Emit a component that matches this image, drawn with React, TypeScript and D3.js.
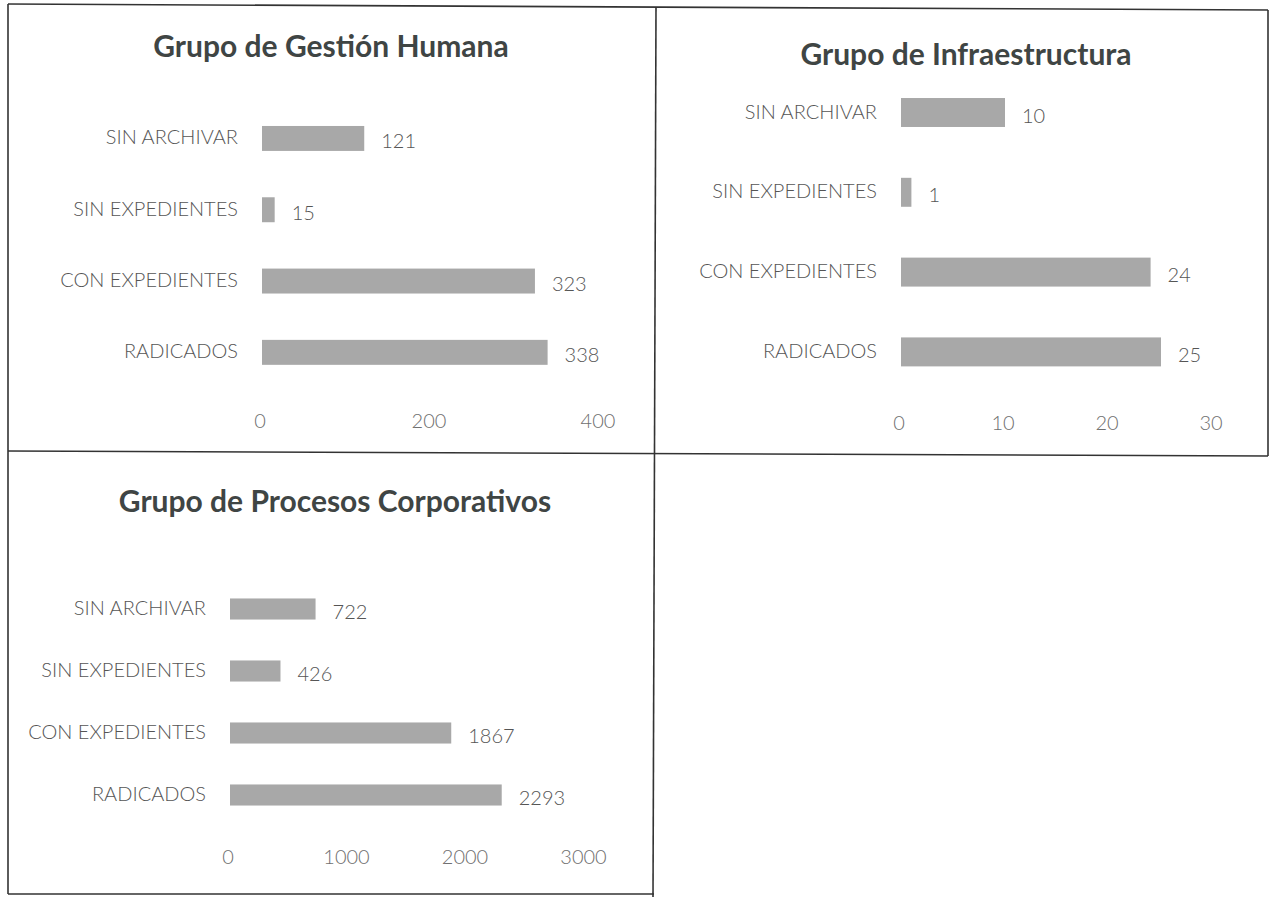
import React from 'react';
import * as d3 from 'd3';

// categories top to bottom, as in the scanned report
const categories = ['SIN ARCHIVAR', 'SIN EXPEDIENTES', 'CON EXPEDIENTES', 'RADICADOS'];

const gestionHumana = [121, 15, 323, 338];
const infraestructura = [10, 1, 24, 25];
const procesosCorporativos = [722, 426, 1867, 2293];

const ticksGestion = [0, 200, 400];
const ticksInfra = [0, 10, 20, 30];
const ticksProcesos = [0, 1000, 2000, 3000];

const titles = ['Grupo de Gestión Humana', 'Grupo de Infraestructura', 'Grupo de Procesos Corporativos'];

const FONT = 'Lato, "Open Sans", sans-serif';
const BAR = '#a8a8a8';

type PanelProps = {
    title: string;
    values: number[];
    ticks: number[];
    xRange: [number, number];
    yRange: [number, number];
    pad: number;
    titleX: number;
    titleY: number;
    tickY: number;
};

function Panel(props: PanelProps) {
    const {title, values, ticks, xRange, yRange, pad, titleX, titleY, tickY} = props;

    const x = d3.scaleLinear()
        .domain([0, ticks[ticks.length - 1]])
        .range(xRange);

    const y = d3.scaleBand()
        .domain(categories)
        .range(yRange)
        .paddingInner(pad)
        .paddingOuter(pad / 2);

    const bw = y.bandwidth();

    return (
        <g>
            <text x={titleX} y={titleY} textAnchor="middle" fontFamily={FONT}
                  fontWeight="bold" fontSize={30} fill="#3f4544">{title}</text>

            {categories.map((c, i) => (
                <g key={c}>
                    <text x={xRange[0] - 24} y={y(c)! + bw / 2 - 1} dy="0.35em" textAnchor="end"
                          fontFamily={FONT} fontWeight={300} fontSize={20} fill="#555">{c}</text>
                    <rect x={x(0)} y={y(c)} width={x(values[i]) - x(0)} height={bw} fill={BAR}/>
                    <text x={x(values[i]) + 17} y={y(c)! + bw / 2 + 3} dy="0.35em"
                          fontFamily={FONT} fontWeight={300} fontSize={20} fill="#555">{values[i]}</text>
                </g>
            ))}

            {ticks.map((t) => (
                <text key={t} x={x(t) - 2} y={tickY} dy="0.35em" textAnchor="middle"
                      fontFamily={FONT} fontWeight={300} fontSize={20} fill="#707070">{t}</text>
            ))}
        </g>
    );
}

export default function App() {
    const line = {stroke: '#333', strokeWidth: 1.6};

    return (
        <div style={{position: 'absolute', left: 0, top: 0}}>
            <svg width={1270} height={897} style={{display: 'block', background: '#fff'}}>
                {/* scanned table borders */}
                <line x1={8} y1={4} x2={1268} y2={10} style={line}/>
                <line x1={8} y1={4} x2={8} y2={894} style={line}/>
                <line x1={1268} y1={10} x2={1268} y2={456} style={line}/>
                <line x1={656} y1={7} x2={653} y2={897} style={line}/>
                <line x1={8} y1={451} x2={1268} y2={456} style={line}/>
                <line x1={8} y1={894} x2={654} y2={894} style={line}/>

                <Panel title={titles[0]} values={gestionHumana} ticks={ticksGestion}
                       xRange={[262, 600]} yRange={[102.8, 388]} pad={0.65}
                       titleX={331} titleY={57} tickY={421}/>

                <Panel title={titles[1]} values={infraestructura} ticks={ticksInfra}
                       xRange={[901, 1213]} yRange={[72.6, 391.8]} pad={0.637}
                       titleX={966} titleY={65} tickY={423}/>

                <Panel title={titles[2]} values={procesosCorporativos} ticks={ticksProcesos}
                       xRange={[230, 585.5]} yRange={[578, 826]} pad={0.66}
                       titleX={335} titleY={512} tickY={857}/>
            </svg>
        </div>
    );
}
